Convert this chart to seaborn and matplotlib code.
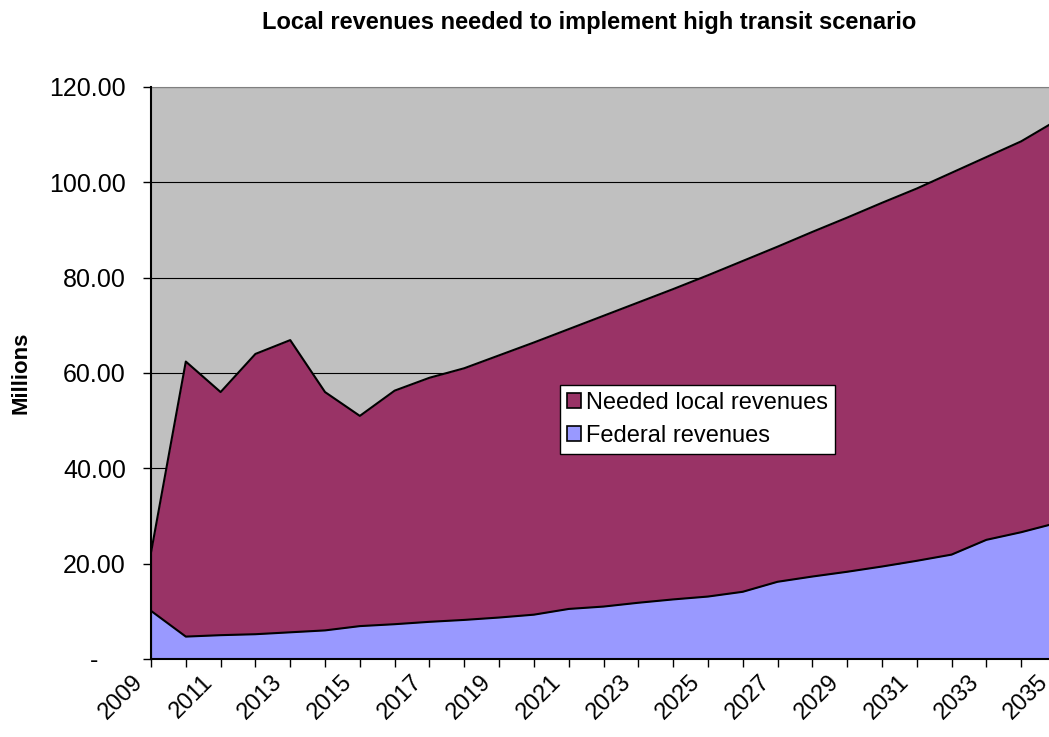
import numpy as np
import matplotlib
matplotlib.use("Agg")
import matplotlib.pyplot as plt
import matplotlib.patches as mpatches
import matplotlib.transforms as mtransforms
import seaborn as sns

###################################################################
# data (millions)
###################################################################

years = list(range(2009, 2036))

federal = [10.1, 4.7, 5.0, 5.2, 5.6, 6.0, 6.9, 7.3, 7.8, 8.2,
           8.7, 9.3, 10.5, 11.0, 11.8, 12.5, 13.1, 14.1, 16.2, 17.3,
           18.3, 19.4, 20.6, 21.9, 25.0, 26.6, 28.5]

local_needed = [12.2, 57.7, 51.0, 58.8, 61.3, 50.0, 44.1, 49.0, 51.2, 52.8,
                55.0, 57.1, 58.7, 61.0, 63.0, 65.1, 67.4, 69.4, 70.3, 72.3,
                74.3, 76.3, 78.1, 80.1, 80.3, 82.0, 84.4]

series_names = ["Needed local revenues", "Federal revenues"]
y_ticks = [0, 20, 40, 60, 80, 100, 120]
y_tick_labels = ["-    ", "20.00", "40.00", "60.00", "80.00", "100.00", "120.00"]

###################################################################
# style
###################################################################

sns.set_style("white")
plt.rcParams['font.family'] = ['Liberation Sans', 'DejaVu Sans']
plt.rcParams['text.color'] = 'black'
plt.rcParams['axes.labelcolor'] = 'black'
plt.rcParams['xtick.color'] = 'black'
plt.rcParams['ytick.color'] = 'black'

col_local = "#993366"
col_fed = "#9999FF"
col_bg = "#C0C0C0"

fig = plt.figure(figsize=(10.49, 7.37), dpi=100)
# axes runs a little past the right edge, like the cropped original
ax = fig.add_axes([151 / 1049, 78 / 737, 905 / 1049, 572 / 737])
ax.set_facecolor(col_bg)

yrs = np.array(years)
fed = np.array(federal)
total = fed + np.array(local_needed)

ax.fill_between(yrs, 0, fed, color=col_fed, lw=0, zorder=2)
ax.fill_between(yrs, fed, total, color=col_local, lw=0, zorder=2)
sns.lineplot(x=yrs, y=fed, color="black", lw=1.5, ax=ax, zorder=3)
sns.lineplot(x=yrs, y=total, color="black", lw=1.5, ax=ax, zorder=3)
ax.plot([yrs[0], yrs[0]], [0, total[0]], color="black", lw=1.5, zorder=3)

ax.set_xlim(2009, 2035)
ax.set_ylim(0, 120)

for v in y_ticks[1:]:
    ax.axhline(v, color="black", lw=0.8, zorder=1)

ax.set_yticks(y_ticks)
ax.set_yticklabels(y_tick_labels)
ax.set_xticks(years)
ax.set_xticklabels([str(y) if (y - 2009) % 2 == 0 else "" for y in years],
                   rotation=45, ha="right", va="center", rotation_mode="anchor")
ax.tick_params(axis="both", which="major", direction="out", length=6,
               width=1, color="black", labelcolor="black", labelsize=18,
               left=True, bottom=True)
ax.tick_params(axis="x", labelsize=17, pad=8)
ax.tick_params(axis="y", pad=12)

shift = mtransforms.ScaledTranslation(-11 / 100, 0, fig.dpi_scale_trans)
for lbl in ax.get_xticklabels():
    lbl.set_transform(lbl.get_transform() + shift)

for s in ["left", "bottom"]:
    ax.spines[s].set_color("black")
    ax.spines[s].set_linewidth(1.5)
    ax.spines[s].set_zorder(4)
ax.spines["top"].set_color("#808080")
ax.spines["right"].set_visible(False)

ax.set_ylabel("Millions", fontsize=16, fontweight="bold", color="black")
ax.yaxis.set_label_coords(-0.132, 0.5)

fig.text(0.5615, 0.970, "Local revenues needed to implement high transit scenario",
         ha="center", va="center", fontsize=17, fontweight="bold", color="black")

handles = [mpatches.Patch(facecolor=col_local, edgecolor="black", lw=1.2),
           mpatches.Patch(facecolor=col_fed, edgecolor="black", lw=1.2)]
leg = ax.legend(handles, series_names, loc="upper left",
                bbox_to_anchor=(0.452, 0.479), fontsize=17, frameon=True,
                fancybox=False, framealpha=1, edgecolor="black",
                handlelength=0.6, handleheight=0.6, handletextpad=0.2,
                labelspacing=0.45, borderpad=0.3, borderaxespad=0)
leg.get_frame().set_linewidth(1)
leg.set_zorder(5)
for t in leg.get_texts():
    t.set_color("black")

fig.savefig("out.png", dpi=100)
